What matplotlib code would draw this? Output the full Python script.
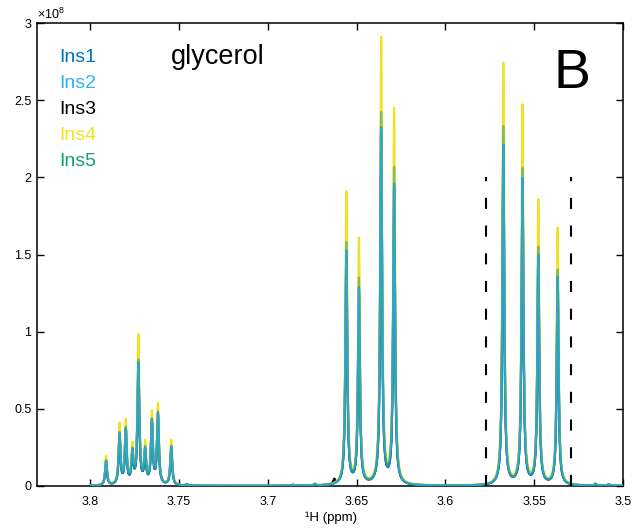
import numpy as np
import matplotlib
matplotlib.use("Agg")
import matplotlib.pyplot as plt

plt.rcParams['font.family'] = ['Liberation Sans', 'DejaVu Sans']
plt.rcParams['mathtext.fontset'] = 'custom'
plt.rcParams['mathtext.rm'] = 'Liberation Sans'
plt.rcParams['mathtext.it'] = 'Liberation Sans'

# ---- data (peak centres in ppm, peak heights in units of 1e8) ----
peak_ppm = [3.7911, 3.7835, 3.7800, 3.7763, 3.7729, 3.7691, 3.7653, 3.7619, 3.7544,
            3.6558, 3.6487, 3.6362, 3.6289,
            3.5674, 3.5566, 3.5477, 3.5368]
h_ins1 = [0.162, 0.340, 0.374, 0.244, 0.800, 0.250, 0.430, 0.475, 0.255,
          1.525, 1.288, 2.325, 1.960,
          2.210, 1.994, 1.497, 1.353]
h_ins2 = [0.160, 0.338, 0.372, 0.242, 0.798, 0.248, 0.428, 0.472, 0.253,
          1.520, 1.284, 2.318, 1.955,
          2.205, 1.990, 1.493, 1.350]
h_ins3 = [0.155, 0.330, 0.365, 0.238, 0.785, 0.243, 0.420, 0.465, 0.248,
          1.500, 1.270, 2.290, 1.930,
          2.180, 1.970, 1.475, 1.335]
h_ins4 = [0.196, 0.410, 0.434, 0.287, 0.985, 0.300, 0.490, 0.540, 0.300,
          1.914, 1.612, 2.916, 2.452,
          2.743, 2.474, 1.858, 1.674]
h_ins5 = [0.168, 0.350, 0.385, 0.250, 0.820, 0.260, 0.440, 0.485, 0.262,
          1.583, 1.353, 2.426, 2.070,
          2.333, 2.063, 1.551, 1.404]
# small impurity signals (ppm, height 1e8)
small_ppm = [3.7456, 3.6857, 3.6736, 3.5155, 3.5080]
small_h = [0.008, 0.006, 0.010, 0.012, 0.010]
ins3_extra_ppm = [3.6626]
ins3_extra_h = [0.030]

names = ['Ins1', 'Ins2', 'Ins3', 'Ins4', 'Ins5']
colors = ['#0072BD', '#2CB6EA', '#000000', '#F2E022', '#12A06A']
heights = [h_ins1, h_ins2, h_ins3, h_ins4, h_ins5]

dash_ppm = [3.5771, 3.5293]
dash_top = 2.0

x_ticks = [3.8, 3.75, 3.7, 3.65, 3.6, 3.55, 3.5]
x_ticklabels = ['3.8', '3.75', '3.7', '3.65', '3.6', '3.55', '3.5']
y_ticks = [0, 0.5, 1, 1.5, 2, 2.5, 3]
y_ticklabels = ['0', '0.5', '1', '1.5', '2', '2.5', '3']

HWHM = 0.00063
ppm = np.linspace(3.80, 3.50, 6000)


def lor(x, c):
    return 1.0 / (1.0 + ((x - c) / HWHM) ** 2)


def spectrum(centres, tops, extra_c=(), extra_h=()):
    c = np.asarray(centres)
    M = lor(c[:, None], c[None, :])
    amp = np.linalg.solve(M, np.asarray(tops))
    y = (amp[None, :] * lor(ppm[:, None], c[None, :])).sum(axis=1)
    for cc, hh in zip(list(small_ppm) + list(extra_c), list(small_h) + list(extra_h)):
        y = y + hh * lor(ppm, cc)
    return y * 1e8


fig = plt.figure(figsize=(6.33, 5.29), dpi=100)
W, H = 633, 529
ax = fig.add_axes([37 / W, 1 - 486 / H, (623 - 37) / W, (486 - 23) / H])

order = [2, 3, 4, 0, 1]
alphas = {0: 0.6, 1: 0.6, 2: 1.0, 3: 1.0, 4: 0.5}
for z, i in enumerate(order):
    if i == 2:
        y = spectrum(peak_ppm, heights[i], ins3_extra_ppm, ins3_extra_h)
    else:
        y = spectrum(peak_ppm, heights[i])
    ax.plot(ppm, y, color=colors[i], lw=1.6, alpha=alphas[i], zorder=2 + z,
            solid_capstyle='butt')

for d in dash_ppm:
    ax.plot([d, d], [0, dash_top * 1e8], color='black', lw=1.5,
            linestyle=(0, (5.3, 8.0)), zorder=10)

ax.set_xlim(3.83, 3.50)
ax.set_ylim(0, 3e8)
ax.set_xticks(x_ticks)
ax.set_xticklabels(x_ticklabels)
ax.set_yticks([v * 1e8 for v in y_ticks])
ax.set_yticklabels(y_ticklabels)
ax.tick_params(direction='in', top=True, right=True, length=5, width=1.0,
               labelsize=9, pad=4, colors='black')
ax.tick_params(axis='x', pad=7)
for s in ax.spines.values():
    s.set_linewidth(1.1)
    s.set_color('black')
    s.set_zorder(1)

fig.text(37 / W, 1 - 19 / H, r'$\times10^{8}$', fontsize=9, ha='left', va='baseline')
fig.text(331 / W, 1 - 521 / H, '\u00b9H (ppm)', fontsize=9.5, ha='center', va='baseline')

base = [62.3, 88.3, 114.3, 140.0, 165.7]
for nm, col, b in zip(names, colors, base):
    fig.text(59 / W, 1 - b / H, nm, color=col, fontsize=14, ha='left', va='baseline')

fig.text(171 / W, 1 - 64.5 / H, 'glycerol', fontsize=19.5, ha='left', va='baseline')
fig.text(572 / W, 1 - 88.3 / H, 'B', fontsize=40, ha='center', va='baseline')

fig.savefig('out.png', dpi=100)
